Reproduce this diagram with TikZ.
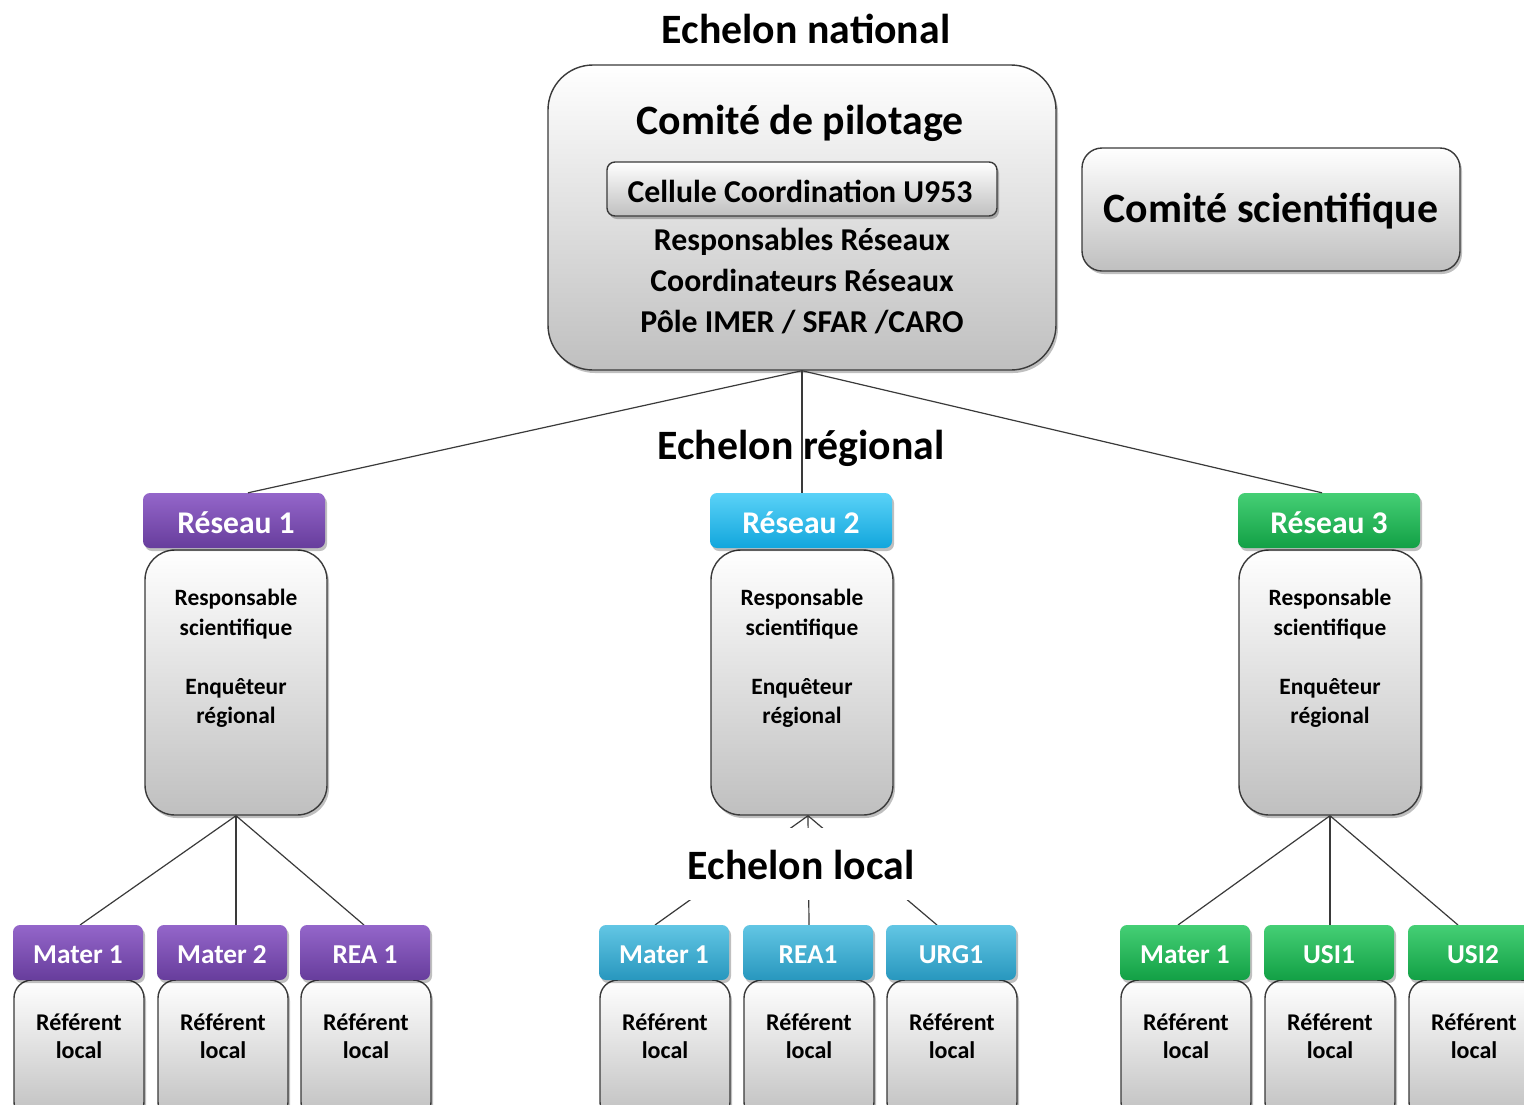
\documentclass[tikz,border=0pt]{standalone}
\usepackage{fontspec}
\setmainfont{Carlito}
\usetikzlibrary{shadows,calc}
\definecolor{purpA}{HTML}{9466CA}
\definecolor{purpM}{HTML}{7E50B6}
\definecolor{purpB}{HTML}{673D9C}
\definecolor{cyanA}{HTML}{5AD2F8}
\definecolor{cyanM}{HTML}{1DB9EE}
\definecolor{cyanB}{HTML}{12A6DC}
\definecolor{tealA}{HTML}{62C6E4}
\definecolor{tealM}{HTML}{3AAED3}
\definecolor{tealB}{HTML}{2897BE}
\definecolor{grnA}{HTML}{45CF75}
\definecolor{grnM}{HTML}{1DB25A}
\definecolor{grnB}{HTML}{12A045}
\definecolor{lineC}{HTML}{3A3A3A}
\begin{document}
\begin{tikzpicture}[x=1pt,y=-1pt,
  conn/.style={draw=lineC, line width=1.2pt},
  shade/.style={drop shadow={shadow xshift=2pt,shadow yshift=-3pt,opacity=0.25,fill=black}},
  graybox/.style={draw=lineC, line width=1.4pt, top color=white, bottom color=black!25, shade},
  hdr/.style={rounded corners=7pt, draw=none, shade, minimum width=182pt, minimum height=55pt, inner sep=0pt},
  lhdr/.style={hdr, minimum width=130pt},
  hdrtext/.style={text=white, font=\bfseries\fontsize{31.6}{36}\selectfont, inner sep=0pt},
  lhdrtext/.style={text=white, font=\bfseries\fontsize{27.3}{30}\selectfont, inner sep=0pt},
  purp/.style={top color=purpA, middle color=purpM, bottom color=purpB},
  cyn/.style={top color=cyanA, middle color=cyanM, bottom color=cyanB},
  teal/.style={top color=tealA, middle color=tealM, bottom color=tealB},
  grn/.style={top color=grnA, middle color=grnM, bottom color=grnB},
  regbody/.style={graybox, rounded corners=30pt, minimum width=182pt, minimum height=265pt, inner sep=0pt},
  locbody/.style={graybox, rounded corners=18pt, minimum width=130pt, minimum height=140pt, inner sep=0pt},
  heading/.style={font=\bfseries\fontsize{41.8}{46}\selectfont, inner sep=0pt},
  regtext/.style={font=\bfseries\fontsize{23.4}{29.5}\selectfont, align=center, inner sep=0pt},
  loctext/.style={font=\bfseries\fontsize{24}{28}\selectfont, align=center, inner sep=0pt},
]
\useasboundingbox[fill=white] (0,0) rectangle (1524,1104);

% national level
\node[heading] (tnat) at (806,29) {Echelon national};
\node[graybox, rounded corners=45pt, minimum width=508pt, minimum height=305pt, inner sep=0pt] (cp) at (802,217.5) {};
\node[heading] (cptitle) at (800,123) {Comité de pilotage};
\node[graybox, rounded corners=8pt, minimum width=390pt, minimum height=54pt, inner sep=0pt] (cell) at (802,189) {};
\node[font=\bfseries\fontsize{31.8}{36}\selectfont, inner sep=0pt] (celltext) at (800,191) {Cellule Coordination U953};
\node[font=\bfseries\fontsize{31.8}{41}\selectfont, align=center, inner sep=0pt] (cpmem) at (802,281) {Responsables Réseaux\\Coordinateurs Réseaux\\Pôle IMER / SFAR /CARO};
\node[graybox, rounded corners=20pt, minimum width=378pt, minimum height=123pt, inner sep=0pt] (cs) at (1271,209.5) {};
\node[heading] (cstext) at (1271,211) {Comité scientifique};

% regional level
\node[regbody] (b1) at (236,682.5) {};
\node[regbody] (b2) at (802,682.5) {};
\node[regbody] (b3) at (1330,682.5) {};
\node[hdr, purp] (r1) at (234,520.5) {};
\node[hdr, cyn] (r2) at (801,520.5) {};
\node[hdr, grn] (r3) at (1329,520.5) {};
\node[hdrtext] (r1t) at (236,523) {Réseau 1};
\node[hdrtext] (r2t) at (801,523) {Réseau 2};
\node[hdrtext] (r3t) at (1329,523) {Réseau 3};
\foreach \n/\x in {1/236, 2/802, 3/1330} {
  \node[regtext] (rt\n) at (\x,658.5) {Responsable\\scientifique\\[29.5pt]Enquêteur\\régional};
}

% connectors national -> regional
\draw[conn] (cp.south) -- ([xshift=14pt]r1.north);
\draw[conn] (cp.south) -- ([xshift=1pt]r2.north);
\draw[conn] (cp.south) -- ([xshift=-7pt]r3.north);
\node[heading] (treg) at (801,448) {Echelon régional};

% local level connectors
\draw[conn] (b1.south) -- (80,925) coordinate (e11);
\draw[conn] (b1.south) -- (236,925) coordinate (e12);
\draw[conn] (b1.south) -- (364,925) coordinate (e13);
\draw[conn] ([xshift=6pt]b2.south) -- (655,925) coordinate (e21);
\draw[conn] ([xshift=6pt]b2.south) -- (809,925) coordinate (e22);
\draw[conn] ([xshift=6pt]b2.south) -- (937,925) coordinate (e23);
\draw[conn] (b3.south) -- (1178,925) coordinate (e31);
\draw[conn] (b3.south) -- (1330,925) coordinate (e32);
\draw[conn] (b3.south) -- (1458,925) coordinate (e33);
\node[fill=white, minimum width=232pt, minimum height=72pt, inner sep=0pt] (tlocbg) at (800,864) {};
\node[heading] (tloc) at (801,865) {Echelon local};

% local boxes
\foreach \n/\x/\st/\lab in {11/78/purp/Mater 1, 12/222/purp/Mater 2, 13/365/purp/REA 1,
  21/664/teal/Mater 1, 22/808/teal/REA1, 23/951/teal/URG1,
  31/1185/grn/Mater 1, 32/1329/grn/USI1, 33/1473/grn/USI2} {
  \node[locbody] (lb\n) at (\x+1,1050) {};
  \node[lhdr, \st] (lh\n) at (\x,952.5) {};
  \node[lhdrtext] (lht\n) at (\x,955) {\lab};
  \node[loctext] (lt\n) at (\x+1,1036) {Référent\\local};
}
\end{tikzpicture}
\end{document}
